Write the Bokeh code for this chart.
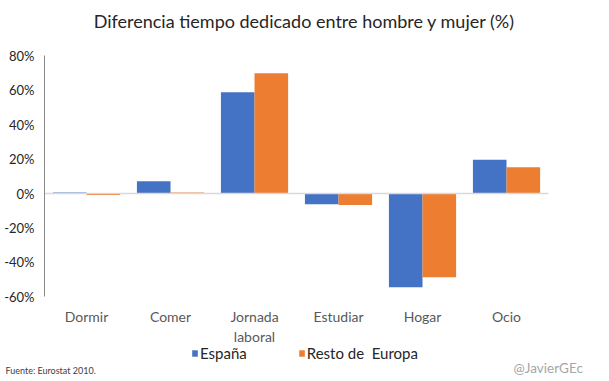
from bokeh.plotting import figure
from bokeh.models import (ColumnDataSource, Range1d, FixedTicker, PrintfTickFormatter,
                          LinearAxis, Legend, LegendItem, Label)
from bokeh.transform import dodge
from bokeh.embed import file_html
from bokeh.resources import INLINE

categories = ["Dormir", "Comer", "Jornada\nlaboral", "Estudiar", "Hogar", "Ocio"]
espana = [0.6, 7.1, 58.7, -6.2, -54.3, 19.5]
resto_europa = [-0.8, 0.6, 69.7, -6.6, -48.5, 15.2]
y_ticks = [-60, -40, -20, 0, 20, 40, 60, 80]
series_names = ["España", "Resto de  Europa"]
title_text = "Diferencia tiempo dedicado entre hombre y mujer (%)"
source_text = "Fuente: Eurostat 2010."
credit_text = "@JavierGEc"

FONT = "Lato"
BLUE = "#4472C4"
ORANGE = "#ED7D31"

idx = list(range(len(categories)))
src = ColumnDataSource(dict(x=idx, esp=espana, eur=resto_europa))

# frame covers the whole canvas; the axes are drawn at fixed locations inside it
p = figure(width=609, height=381, x_range=Range1d(-1.024, 6.226), y_range=Range1d(-109.0, 111.9),
           x_axis_type=None, y_axis_type=None, output_backend="svg", toolbar_location=None,
           min_border=0, outline_line_color=None)
p.grid.visible = False

r1 = p.vbar(x=dodge("x", -0.2), top="esp", width=0.4, source=src, fill_color=BLUE, line_color=None)
r2 = p.vbar(x=dodge("x", 0.2), top="eur", width=0.4, source=src, fill_color=ORANGE, line_color=None)

left_edge = idx[0] - 0.5
right_edge = idx[-1] + 0.5

# y axis
yax = LinearAxis(fixed_location=left_edge, bounds=(y_ticks[0], y_ticks[-1]),
                 ticker=FixedTicker(ticks=y_ticks), formatter=PrintfTickFormatter(format="%d%%"))
yax.major_tick_line_color = None
yax.minor_tick_line_color = None
yax.major_tick_out = 0
yax.axis_line_color = "#898989"
yax.major_label_text_font = FONT
yax.major_label_text_font_size = "13px"
yax.major_label_text_color = "#262626"
yax.major_label_standoff = 10
p.add_layout(yax, "left")

# zero line
zax = LinearAxis(fixed_location=0, bounds=(left_edge, right_edge), ticker=FixedTicker(ticks=[]))
zax.axis_line_color = "#D9D9D9"
zax.axis_line_width = 1.5
zax.major_tick_line_color = None
zax.minor_tick_line_color = None
p.add_layout(zax, "below")

# category labels
xax = LinearAxis(fixed_location=y_ticks[0], ticker=FixedTicker(ticks=idx),
                 major_label_overrides={i: c for i, c in zip(idx, categories)})
xax.axis_line_color = None
xax.major_tick_line_color = None
xax.minor_tick_line_color = None
xax.major_tick_out = 0
xax.major_label_text_font = FONT
xax.major_label_text_font_size = "14px"
xax.major_label_text_color = "#595959"
xax.major_label_standoff = 11
p.add_layout(xax, "below")

p.add_layout(Label(x=304, y=361, x_units="screen", y_units="screen", text=title_text,
                   text_align="center", text_baseline="middle",
                   text_font=FONT, text_font_size="18px", text_color="#262626"))

legend = Legend(items=[LegendItem(label=series_names[0], renderers=[r1]),
                       LegendItem(label=series_names[1], renderers=[r2])],
                orientation="horizontal", location=(191, 19),
                label_text_font=FONT, label_text_font_size="15px", label_text_color="#262626",
                glyph_width=7, glyph_height=8, spacing=51, label_standoff=2,
                border_line_color=None, background_fill_alpha=0, padding=0, margin=0,
                label_height=14)
p.add_layout(legend, "center")

p.add_layout(Label(x=5, y=6, x_units="screen", y_units="screen", text=source_text,
                   text_font=FONT, text_font_size="9px", text_color="#404040"))
p.add_layout(Label(x=513, y=6, x_units="screen", y_units="screen", text=credit_text,
                   text_font=FONT, text_font_size="13.5px", text_color="#A6A6A6"))

open("out.html", "w").write(file_html(p, INLINE))
